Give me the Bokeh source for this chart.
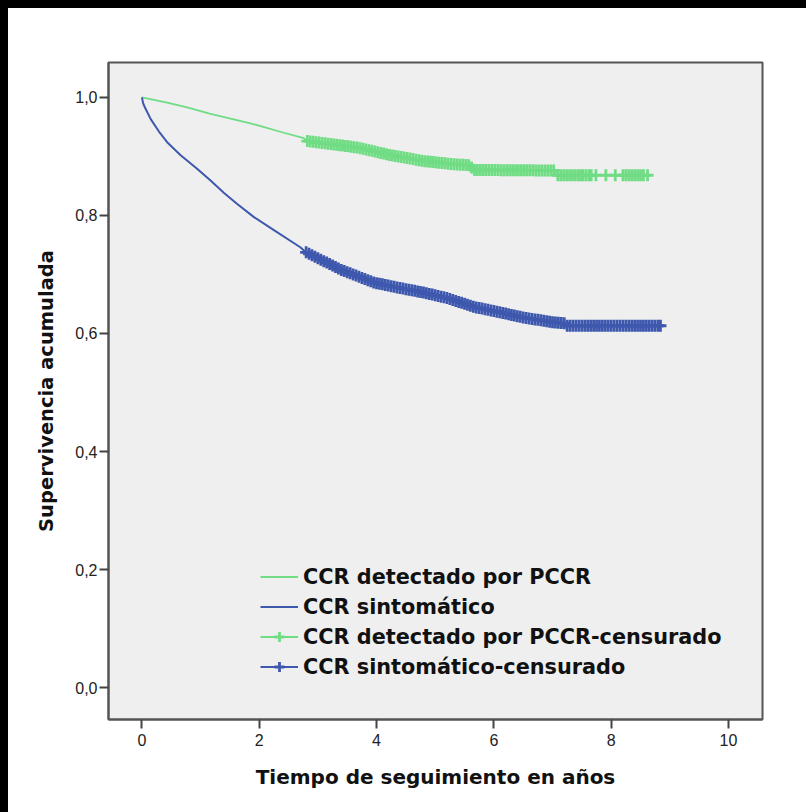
import numpy as np
from bokeh.plotting import figure
from bokeh.models import (Range1d, FixedTicker, CustomJSTickFormatter, Legend, LegendItem)
from bokeh.embed import file_html
from bokeh.resources import INLINE

# ---- data ----
green_t = [0.00, 0.43, 0.77, 1.17, 1.85, 2.42, 2.76, 2.81, 3.20, 3.67, 4.24, 4.81,
           5.38, 5.60, 5.64, 7.04, 7.06, 8.62]
green_s = [1.000, 0.991, 0.983, 0.972, 0.956, 0.940, 0.931, 0.926, 0.921, 0.915, 0.902, 0.892,
           0.886, 0.885, 0.877, 0.876, 0.868, 0.868]

blue_t = [0.00, 0.02, 0.06, 0.15, 0.29, 0.43, 0.66, 0.94, 1.17, 1.40, 1.63, 1.91, 2.25,
          2.70, 2.79, 3.39, 3.96, 4.40, 4.81, 5.20, 5.66, 6.23, 6.50, 7.00, 7.21, 7.23, 8.84]
blue_s = [1.000, 0.990, 0.981, 0.963, 0.942, 0.924, 0.902, 0.879, 0.859, 0.838, 0.819, 0.797, 0.775,
          0.746, 0.738, 0.708, 0.686, 0.677, 0.669, 0.660, 0.645, 0.633, 0.627, 0.619, 0.617, 0.613, 0.613]

green_cens_t = [
    2.82, 2.87, 2.92, 2.97, 3.02, 3.07, 3.12, 3.17, 3.22, 3.27,
    3.32, 3.37, 3.42, 3.47, 3.52, 3.57, 3.62, 3.67, 3.72, 3.77,
    3.82, 3.87, 3.92, 3.97, 4.02, 4.07, 4.12, 4.17, 4.22, 4.27,
    4.32, 4.37, 4.42, 4.47, 4.52, 4.57, 4.62, 4.67, 4.72, 4.77,
    4.82, 4.87, 4.92, 4.97, 5.02, 5.07, 5.12, 5.17, 5.22, 5.27,
    5.32, 5.37, 5.42, 5.47, 5.52, 5.57, 5.62, 5.67, 5.72, 5.77,
    5.82, 5.87, 5.92, 5.97, 6.02, 6.07, 6.12, 6.17, 6.22, 6.27,
    6.32, 6.37, 6.42, 6.47, 6.52, 6.57, 6.62, 6.67, 6.72, 6.77,
    6.82, 6.87, 6.92, 6.97, 7.02, 7.09, 7.14, 7.19, 7.24, 7.29,
    7.34, 7.39, 7.44, 7.48, 7.52, 7.57, 7.62, 7.66, 7.74, 7.91,
    8.07, 8.20, 8.25, 8.30, 8.35, 8.40, 8.45, 8.50, 8.55, 8.62]

blue_cens_t = [
    2.80, 2.85, 2.90, 2.95, 3.00, 3.05, 3.10, 3.15, 3.20, 3.25,
    3.30, 3.35, 3.40, 3.45, 3.50, 3.55, 3.60, 3.65, 3.70, 3.75,
    3.80, 3.85, 3.90, 3.95, 4.00, 4.05, 4.10, 4.15, 4.20, 4.25,
    4.30, 4.35, 4.40, 4.45, 4.50, 4.55, 4.60, 4.65, 4.70, 4.75,
    4.80, 4.85, 4.90, 4.95, 5.00, 5.05, 5.10, 5.15, 5.20, 5.25,
    5.30, 5.35, 5.40, 5.45, 5.50, 5.55, 5.60, 5.65, 5.70, 5.75,
    5.80, 5.85, 5.90, 5.95, 6.00, 6.05, 6.10, 6.15, 6.20, 6.25,
    6.30, 6.35, 6.40, 6.45, 6.50, 6.55, 6.60, 6.65, 6.70, 6.75,
    6.80, 6.85, 6.90, 6.95, 7.00, 7.05, 7.10, 7.15, 7.20, 7.25,
    7.30, 7.35, 7.40, 7.45, 7.50, 7.55, 7.60, 7.65, 7.70, 7.75,
    7.80, 7.85, 7.90, 7.95, 8.00, 8.05, 8.10, 8.15, 8.20, 8.25,
    8.30, 8.35, 8.40, 8.45, 8.50, 8.55, 8.60, 8.65, 8.70, 8.75,
    8.80, 8.84]

labels = ["CCR detectado por PCCR", "CCR sintomático",
          "CCR detectado por PCCR-censurado", "CCR sintomático-censurado"]
x_ticks = [0, 2, 4, 6, 8, 10]
y_ticks = [0.0, 0.2, 0.4, 0.6, 0.8, 1.0]

GREEN = "#70dc84"
BLUE = "#3e58ae"

green_cens_s = np.interp(green_cens_t, green_t, green_s)
blue_cens_s = np.interp(blue_cens_t, blue_t, blue_s)

p = figure(width=798, height=804, output_backend="svg", toolbar_location=None,
           x_range=Range1d(-0.57, 10.58), y_range=Range1d(-0.054, 1.059),
           min_border_left=100, min_border_right=44, min_border_top=54, min_border_bottom=93,
           background_fill_color="#efefef", border_fill_color="white")
p.grid.visible = False
p.outline_line_color = "#555555"
p.outline_line_width = 2

for ax in (p.xaxis[0], p.yaxis[0]):
    ax.axis_line_color = "#555555"
    ax.axis_line_width = 2
    ax.major_tick_line_color = "#444444"
    ax.major_tick_line_width = 2
    ax.major_tick_in = 0
    ax.major_tick_out = 9
    ax.minor_tick_line_color = None
    ax.major_label_text_font = "Liberation Sans"
    ax.major_label_text_font_size = "16px"
    ax.major_label_text_color = "#222222"
    ax.axis_label_text_font = "DejaVu Sans"
    ax.axis_label_text_font_style = "bold"
    ax.axis_label_text_color = "#111111"

p.xaxis.ticker = FixedTicker(ticks=x_ticks)
p.yaxis.ticker = FixedTicker(ticks=y_ticks)
p.yaxis.formatter = CustomJSTickFormatter(code="return tick.toFixed(1).replace('.', ',');")
p.xaxis.axis_label = "Tiempo de seguimiento en años"
p.yaxis.axis_label = "Supervivencia acumulada"
p.xaxis.axis_label_text_font_size = "20px"
p.yaxis.axis_label_text_font_size = "19.5px"
p.xaxis.major_label_standoff = 5
p.yaxis.major_label_standoff = 2
p.xaxis.axis_label_standoff = 16
p.yaxis.axis_label_standoff = 14

rg = p.line(green_t, green_s, line_color=GREEN, line_width=1.8)
rb = p.line(blue_t, blue_s, line_color=BLUE, line_width=2)
cg = p.scatter(green_cens_t, green_cens_s, marker="cross", size=12, line_color=GREEN, line_width=2.8)
cb = p.scatter(blue_cens_t, blue_cens_s, marker="cross", size=12, line_color=BLUE, line_width=2.8)

legend = Legend(items=[
    LegendItem(label=labels[0], renderers=[rg]),
    LegendItem(label=labels[1], renderers=[rb]),
    LegendItem(label=labels[2], renderers=[rg, cg]),
    LegendItem(label=labels[3], renderers=[rb, cb]),
], location=(152, 40), orientation="vertical")
legend.padding = 0
legend.margin = 0
legend.spacing = 5
legend.glyph_width = 38
legend.glyph_height = 25
legend.label_height = 25
legend.label_standoff = 5
legend.background_fill_alpha = 0
legend.border_line_alpha = 0
legend.label_text_font = "DejaVu Sans"
legend.label_text_font_style = "bold"
legend.label_text_font_size = "20.8px"
legend.label_text_color = "#111111"
p.add_layout(legend)

html = file_html(p, INLINE)
css = ("<style>html,body{margin:0 !important;}"
       "body{padding:8px 0 0 8px !important;box-sizing:border-box;"
       "background:linear-gradient(to right,#000 8px,transparent 8px),"
       "linear-gradient(to bottom,#000 8px,#fff 8px);}</style>")
html = html.replace("</head>", css + "</head>", 1)
open("out.html", "w").write(html)
